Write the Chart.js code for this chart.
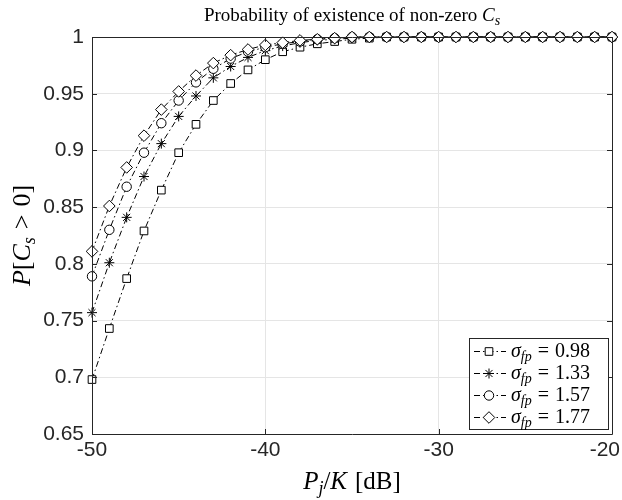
<!DOCTYPE html>
<html>
<head>
<meta charset="utf-8">
<script src="https://cdn.jsdelivr.net/npm/chart.js@4/dist/chart.umd.min.js"></script>
<style>
  html, body { margin: 0; padding: 0; background: #ffffff; }
  #wrap { width: 622px; height: 500px; position: relative; }
</style>
</head>
<body>
<div id="wrap"><canvas id="c" width="622" height="500"></canvas></div>
<script>
// ---- data ----
const xValues = [-50,-49,-48,-47,-46,-45,-44,-43,-42,-41,-40,-39,-38,-37,-36,-35,-34,-33,-32,-31,-30,-29,-28,-27,-26,-25,-24,-23,-22,-21,-20];
const sigma098 = [0.698,0.743,0.787,0.829,0.865,0.898,0.923,0.944,0.959,0.971,0.980,0.987,0.991,0.994,0.996,0.998,0.999,1,1,1,1,1,1,1,1,1,1,1,1,1,1];
const sigma133 = [0.757,0.801,0.841,0.877,0.906,0.930,0.948,0.964,0.974,0.982,0.988,0.992,0.995,0.997,0.998,0.999,1,1,1,1,1,1,1,1,1,1,1,1,1,1,1];
const sigma157 = [0.789,0.830,0.868,0.898,0.924,0.944,0.960,0.972,0.981,0.987,0.991,0.994,0.996,0.998,0.999,1,1,1,1,1,1,1,1,1,1,1,1,1,1,1,1];
const sigma177 = [0.811,0.851,0.885,0.913,0.936,0.952,0.966,0.977,0.984,0.989,0.993,0.995,0.997,0.998,0.999,1,1,1,1,1,1,1,1,1,1,1,1,1,1,1,1];
const seriesLabels = ['0.98','1.33','1.57','1.77'];
const xTickValues = [-50,-40,-30,-20];
const yTickValues = [0.65,0.7,0.75,0.8,0.85,0.9,0.95,1];

const SERIF = '"Liberation Serif", "DejaVu Serif", serif';
const SANS = '"Liberation Sans", Arial, sans-serif';
const AXIS_COLOR = '#262626';
const DASH = [6, 3, 1.5, 3];

function pts(vals) { return xValues.map((x, i) => ({ x: x, y: vals[i] })); }

const styles = [
  { pointStyle: 'rect', radius: 5.4 },
  { pointStyle: 'star', radius: 5 },
  { pointStyle: 'circle', radius: 4.7 },
  { pointStyle: 'rectRot', radius: 5.8 }
];
const allSeries = [sigma098, sigma133, sigma157, sigma177];

const datasets = allSeries.map((vals, i) => ({
  label: 'σfp = ' + seriesLabels[i],
  data: pts(vals),
  borderColor: '#000000',
  backgroundColor: '#ffffff',
  borderWidth: 1,
  borderDash: DASH,
  pointStyle: styles[i].pointStyle,
  pointRadius: styles[i].radius,
  pointBorderWidth: 1,
  pointBorderColor: '#000000',
  pointBackgroundColor: '#ffffff',
  showLine: true,
  tension: 0,
  clip: false,
  order: 3 - i
}));

// draw a sequence of text runs (gap runs: {gap: px})
function drawRuns(ctx, runs, x, y, align) {
  let total = 0;
  runs.forEach(r => {
    if (r.gap !== undefined) { r.w = r.gap; }
    else { ctx.font = r.font; r.w = ctx.measureText(r.t).width; }
    total += r.w;
  });
  let cx = align === 'center' ? x - total / 2 : (align === 'right' ? x - total : x);
  runs.forEach(r => {
    if (r.gap === undefined) {
      ctx.font = r.font;
      ctx.fillText(r.t, cx, y + (r.dy || 0));
    }
    cx += r.w;
  });
  return total;
}

const decorPlugin = {
  id: 'decor',
  afterDraw(chart) {
    const ctx = chart.ctx;
    const a = chart.chartArea;
    const xs = chart.scales.x, ys = chart.scales.y;
    ctx.save();
    // box
    ctx.strokeStyle = AXIS_COLOR;
    ctx.lineWidth = 1;
    ctx.setLineDash([]);
    ctx.beginPath();
    ctx.rect(Math.round(a.left) + 0.5, Math.round(a.top) + 0.5, Math.round(a.right - a.left), Math.round(a.bottom - a.top));
    ctx.stroke();
    // inward ticks
    const tl = 5;
    ctx.beginPath();
    xTickValues.forEach(v => {
      const px = Math.round(xs.getPixelForValue(v)) + 0.5;
      ctx.moveTo(px, a.bottom); ctx.lineTo(px, a.bottom - tl);
      ctx.moveTo(px, a.top); ctx.lineTo(px, a.top + tl);
    });
    yTickValues.forEach(v => {
      const py = Math.round(ys.getPixelForValue(v)) + 0.5;
      ctx.moveTo(a.left, py); ctx.lineTo(a.left + tl, py);
      ctx.moveTo(a.right, py); ctx.lineTo(a.right - tl, py);
    });
    ctx.stroke();

    // x tick labels (kept inside the canvas like the reference)
    ctx.fillStyle = AXIS_COLOR;
    ctx.font = '21px ' + SANS;
    ctx.textBaseline = 'top';
    xTickValues.forEach(v => {
      const t = String(v);
      const w = ctx.measureText(t).width;
      let px = xs.getPixelForValue(v) - w / 2;
      if (px + w > chart.width - 2) px = chart.width - 2 - w;
      ctx.textAlign = 'left';
      ctx.fillText(t, px, a.bottom + 6);
    });

    ctx.fillStyle = '#000000';
    ctx.textBaseline = 'alphabetic';
    ctx.textAlign = 'left';
    // title
    const tcx = (a.left + a.right) / 2;
    drawRuns(ctx, [
      { t: 'Probability of existence of non-zero ', font: '19px ' + SERIF },
      { t: 'C', font: 'italic 19px ' + SERIF },
      { t: 's', font: 'italic 14px ' + SERIF, dy: 4 }
    ], tcx, 21, 'center');

    // x label
    drawRuns(ctx, [
      { t: 'P', font: 'italic 25px ' + SERIF },
      { t: 'j', font: 'italic 18px ' + SERIF, dy: 5 },
      { t: '/', font: '25px ' + SERIF },
      { t: 'K', font: 'italic 25px ' + SERIF },
      { gap: 8 },
      { t: '[dB]', font: '25px ' + SERIF }
    ], tcx, 489, 'center');

    // y label
    ctx.save();
    ctx.translate(30, (a.top + a.bottom) / 2);
    ctx.rotate(-Math.PI / 2);
    drawRuns(ctx, [
      { t: 'P', font: 'italic 26px ' + SERIF },
      { t: '[', font: '26px ' + SERIF },
      { t: 'C', font: 'italic 26px ' + SERIF },
      { t: 's', font: 'italic 18px ' + SERIF, dy: 5 },
      { gap: 8 },
      { t: '>', font: '26px ' + SERIF },
      { gap: 8 },
      { t: '0]', font: '26px ' + SERIF }
    ], 0, 0, 'center');
    ctx.restore();

    // legend
    const lx = 469, ly = 338, lw = 139, lh = 91;
    ctx.fillStyle = '#ffffff';
    ctx.fillRect(lx, ly, lw, lh);
    ctx.strokeStyle = AXIS_COLOR;
    ctx.lineWidth = 1;
    ctx.strokeRect(lx + 0.5, ly + 0.5, lw, lh);
    datasets.forEach((ds, i) => {
      const ry = ly + 13 + i * 22;
      ctx.strokeStyle = '#000';
      ctx.lineWidth = 1;
      ctx.setLineDash(DASH);
      ctx.beginPath();
      ctx.moveTo(lx + 5, ry + 0.5); ctx.lineTo(lx + 37, ry + 0.5);
      ctx.stroke();
      ctx.setLineDash([]);
      ctx.fillStyle = '#ffffff';
      Chart.helpers.drawPoint(ctx, {
        pointStyle: ds.pointStyle, radius: ds.pointRadius, borderWidth: 1, rotation: 0
      }, lx + 20, ry + 0.5);
      ctx.fillStyle = '#000';
      drawRuns(ctx, [
        { t: 'σ', font: 'italic 20px ' + SERIF },
        { t: 'fp', font: 'italic 14px ' + SERIF, dy: 4 },
        { gap: 6 },
        { t: '=', font: '20px ' + SERIF },
        { gap: 6 },
        { t: seriesLabels[i], font: '20px ' + SERIF }
      ], lx + 42, ry + 6, 'left');
    });
    ctx.restore();
  }
};

new Chart(document.getElementById('c'), {
  type: 'line',
  data: { datasets: datasets },
  options: {
    responsive: false,
    animation: false,
    devicePixelRatio: 1,
    layout: { padding: { left: 0, right: 10, top: 37, bottom: 0 } },
    plugins: { legend: { display: false }, title: { display: false }, tooltip: { enabled: false } },
    elements: { line: { borderJoinStyle: 'miter' } },
    scales: {
      x: {
        type: 'linear',
        min: -50, max: -20,
        afterBuildTicks(s) { s.ticks = xTickValues.map(v => ({ value: v })); },
        afterFit(s) { s.height = 66; s.paddingLeft = 0; s.paddingRight = 0; },
        grid: { color: '#e5e5e5', lineWidth: 1, drawTicks: false },
        border: { display: false },
        ticks: { display: false }
      },
      y: {
        type: 'linear',
        min: 0.65, max: 1,
        afterBuildTicks(s) { s.ticks = yTickValues.map(v => ({ value: v })); },
        afterFit(s) { s.width = 92; s.paddingTop = 0; s.paddingBottom = 0; },
        grid: { color: '#e5e5e5', lineWidth: 1, drawTicks: false },
        border: { display: false },
        ticks: { color: AXIS_COLOR, font: { family: SANS, size: 21 }, padding: 8,
                 callback: v => String(Math.round(v * 100) / 100) }
      }
    }
  },
  plugins: [decorPlugin]
});
</script>
</body>
</html>
